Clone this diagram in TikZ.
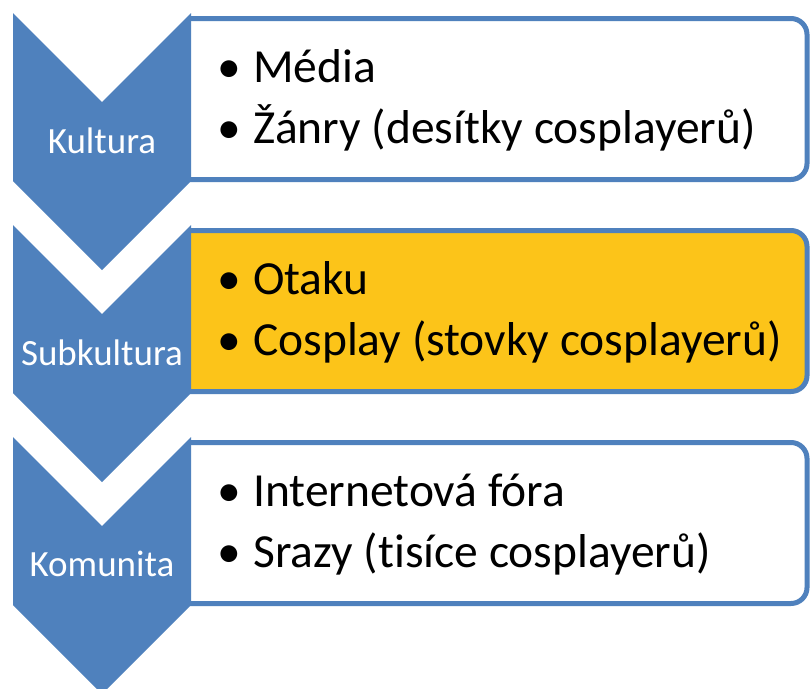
\documentclass[tikz,border=0pt]{standalone}
\usepackage{fontspec}
\setmainfont[Ligatures=NoCommon]{Carlito}
\definecolor{chevblue}{RGB}{79,129,189}
\definecolor{boxyellow}{RGB}{252,196,25}
\tikzset{
  chev/.style={fill=chevblue, draw=none},
  itembox/.style={draw=chevblue, line width=5pt, rounded corners=16pt},
  lbl/.style={text=white, font=\fontsize{37}{42}\selectfont, anchor=base, inner sep=0pt},
  bul/.style={font=\fontsize{47.5}{52}\selectfont, anchor=base west, inner sep=0pt},
  itm/.style={font=\fontsize{47.5}{52}\selectfont, anchor=base west, inner sep=0pt},
}
\begin{document}
\begin{tikzpicture}[x=1pt,y=-1pt]
\clip (0,0) rectangle (810,688);
\fill[white] (0,0) rectangle (810,688);
\foreach \y/\f/\n in {13/white/1, 225/boxyellow/2, 437/white/3}{
  \begin{scope}
    \clip (190,\y) rectangle (810,\y+170);
    \draw[itembox, fill=\f] (150,\y+5.5) rectangle (807,\y+166.5);
  \end{scope}
  \fill[chev] (13,\y) -- (102,\y+89) -- (191,\y) -- (191,\y+168) -- (102,\y+257) -- (13,\y+168) -- cycle;
}
\node[lbl] (l1) at (102,153) {Kultura};
\node[lbl] (l2) at (102,365) {Subkultura};
\node[lbl] (l3) at (102,576) {Komunita};
\node[bul] (b1a) at (217,82) {•};
\node[itm] (t1a) at (253,82) {Média};
\node[bul] (b1b) at (217,143) {•};
\node[itm] (t1b) at (253,143) {Žánry (desítky cosplayerů)};
\node[bul] (b2a) at (217,294) {•};
\node[itm] (t2a) at (253,294) {Otaku};
\node[bul] (b2b) at (217,355) {•};
\node[itm] (t2b) at (253,355) {Cosplay (stovky cosplayerů)};
\node[bul] (b3a) at (217,506) {•};
\node[itm] (t3a) at (253,506) {Internetová fóra};
\node[bul] (b3b) at (217,567) {•};
\node[itm] (t3b) at (253,567) {Srazy (tisíce cosplayerů)};
\end{tikzpicture}
\end{document}
